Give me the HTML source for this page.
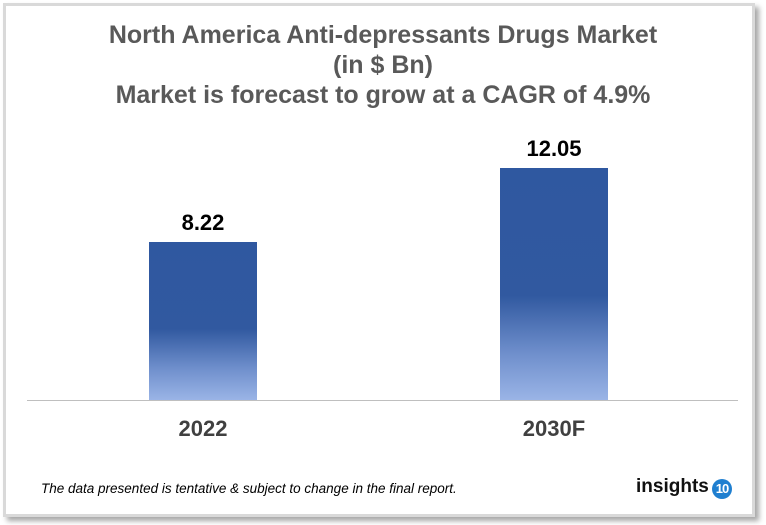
<!DOCTYPE html>
<html><head><style>
body{margin:0;width:766px;height:525px;background:#fff;position:relative;overflow:hidden;font-family:"Liberation Sans",Arial,sans-serif}
.box{position:absolute;left:3px;top:3px;width:746px;height:508px;border:3px solid #d9d9d9;box-shadow:4px 4px 5px rgba(0,0,0,0.35);background:#fff}
.t{position:absolute;left:0;width:766px;text-align:center;font-weight:bold;color:#595959;font-size:25px;line-height:30px}
.bar{position:absolute;width:108px;background:linear-gradient(to bottom,#2f58a0 0%,#3159a0 55%,#6f8fcc 80%,#9ab4e6 100%)}
.v{position:absolute;width:108px;text-align:center;font-weight:bold;font-size:22px;color:#000}
.x{position:absolute;width:160px;text-align:center;font-weight:bold;font-size:22px;color:#404040}
</style></head><body>
<div class="box"></div>
<div class="t" style="top:20px">North America Anti-depressants Drugs Market</div>
<div class="t" style="top:50px">(in $ Bn)</div>
<div class="t" style="top:80px">Market is forecast to grow at a CAGR of 4.9%</div>
<div style="position:absolute;left:27px;top:400px;width:711px;height:1px;background:#bfbfbf"></div>
<div class="bar" style="left:149px;top:242px;height:158px"></div>
<div class="bar" style="left:500px;top:168px;height:232px"></div>
<div class="v" style="left:149px;top:210px">8.22</div>
<div class="v" style="left:500px;top:136px">12.05</div>
<div class="x" style="left:123px;top:416px">2022</div>
<div class="x" style="left:474px;top:416px">2030F</div>
<div style="position:absolute;left:41px;top:481px;font-size:13.5px;font-style:italic;color:#000">The data presented is tentative &amp; subject to change in the final report.</div>
<div style="position:absolute;left:636px;top:476px;font-size:19px;font-weight:bold;color:#111">insights</div>
<div style="position:absolute;left:712px;top:479px;width:20px;height:20px;border-radius:50%;background:#1f7fd0;color:#fff;font-size:13px;font-weight:bold;text-align:center;line-height:20px;letter-spacing:-1px">10</div>
</body></html>
